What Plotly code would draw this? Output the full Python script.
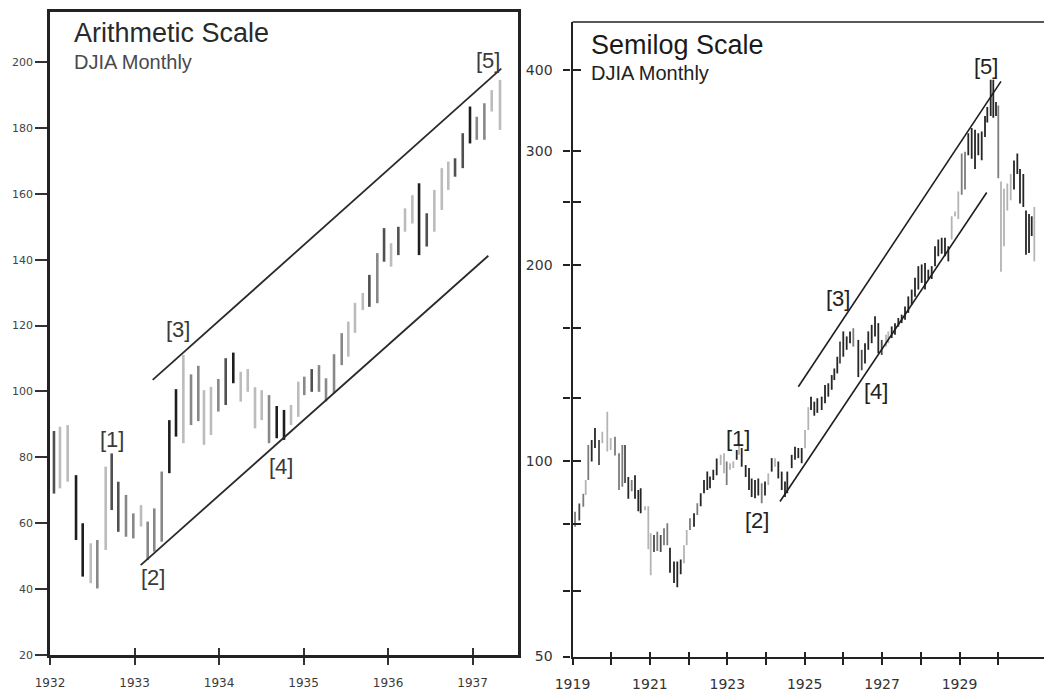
import plotly.graph_objects as go
import math

# ---------------- LEFT PANEL DATA (Arithmetic scale, DJIA monthly 1932-1937) -------------
left_years = [1932.047, 1932.118, 1932.209, 1932.308, 1932.387, 1932.482, 1932.560, 1932.659,
              1932.730, 1932.808, 1932.899, 1932.986, 1933.077, 1933.156, 1933.234, 1933.322,
              1933.412, 1933.491, 1933.578, 1933.669, 1933.755, 1933.822, 1933.905, 1933.992,
              1934.079, 1934.169, 1934.257, 1934.340, 1934.426, 1934.505, 1934.592, 1934.683,
              1934.769, 1934.852, 1934.938, 1935.009, 1935.097, 1935.183, 1935.266, 1935.361,
              1935.452, 1935.530, 1935.609, 1935.701, 1935.779, 1935.873, 1935.953, 1936.036,
              1936.122, 1936.201, 1936.288, 1936.367, 1936.458, 1936.548, 1936.636, 1936.713,
              1936.793, 1936.884, 1936.970, 1937.050, 1937.140, 1937.227, 1937.325]
left_high = [88.0, 89.3, 89.8, 74.6, 60.0, 53.9, 54.9, 77.2, 81.2, 72.6, 68.6, 63.0, 65.5,
             60.5, 64.5, 75.7, 91.3, 100.7, 111.1, 105.2, 107.8, 100.4, 101.4, 103.8, 110.1,
             111.8, 106.0, 106.8, 101.3, 100.4, 98.9, 95.6, 94.4, 95.9, 103.0, 104.5, 106.8,
             108.0, 104.0, 111.3, 117.7, 121.2, 126.9, 129.9, 135.4, 142.0, 149.6, 145.0,
             150.0, 155.6, 159.6, 163.2, 154.1, 161.2, 167.8, 169.8, 170.8, 178.4, 186.5,
             183.4, 187.5, 191.5, 194.6]
left_low = [69.0, 70.6, 72.6, 54.9, 43.8, 41.8, 40.2, 51.9, 64.0, 57.4, 55.9, 55.4, 59.0,
            48.8, 51.4, 54.4, 75.2, 86.3, 84.3, 89.8, 91.0, 83.8, 86.8, 93.9, 95.9, 102.5,
            96.9, 99.9, 88.8, 91.3, 84.3, 85.8, 85.3, 89.8, 92.3, 98.9, 99.9, 99.9, 97.0,
            99.5, 108.0, 110.6, 117.8, 124.7, 125.7, 126.8, 139.4, 137.9, 141.4, 148.5, 151.0,
            141.4, 144.0, 148.5, 155.1, 161.2, 165.2, 167.8, 175.3, 176.4, 176.4, 185.0, 179.4]
# printed ink shade of each bar (0 = black ... 3 = light grey)
left_shade = [1, 3, 3, 0, 0, 3, 2, 3, 1, 1, 2, 2, 3, 2, 2, 2, 0, 0, 3, 2, 2, 3, 3, 2, 1, 0,
              3, 3, 3, 3, 2, 0, 0, 3, 3, 2, 1, 2, 2, 2, 2, 3, 3, 3, 1, 2, 1, 3, 1, 3, 3, 0,
              1, 3, 3, 3, 1, 1, 0, 2, 2, 3, 3]
left_ticks = [1932, 1933, 1934, 1935, 1936, 1937]
left_yticks = [20, 40, 60, 80, 100, 120, 140, 160, 180, 200]
# channel lines (year, value)
left_upper = ([1933.215, 1937.34], [103.5, 198.0])
left_lower = ([1933.073, 1937.187], [47.3, 141.2])
left_labels = ["[1]", "[2]", "[3]", "[4]", "[5]"]
left_label_x = [1932.730, 1933.219, 1933.515, 1934.734, 1937.183]
left_label_y = [85.3, 43.4, 118.7, 77.1, 200.6]

# ---------------- RIGHT PANEL DATA (Semilog scale, DJIA monthly 1919-1930) ---------------
right_years = [1919.065, 1919.176, 1919.279, 1919.341, 1919.408, 1919.496, 1919.581, 1919.685,
               1919.770, 1919.899, 1919.987, 1920.098, 1920.202, 1920.287, 1920.357, 1920.442,
               1920.530, 1920.615, 1920.700, 1920.762, 1920.873, 1920.959, 1921.021, 1921.106,
               1921.191, 1921.279, 1921.364, 1921.450, 1921.519, 1921.623, 1921.708, 1921.796,
               1921.881, 1921.951, 1922.036, 1922.140, 1922.225, 1922.313, 1922.398, 1922.483,
               1922.553, 1922.638, 1922.726,
               1922.829, 1922.915, 1922.984, 1923.070, 1923.155, 1923.243, 1923.302, 1923.372,
               1923.475, 1923.561, 1923.630, 1923.716, 1923.801, 1923.889, 1923.974, 1924.059,
               1924.147, 1924.233, 1924.318, 1924.406, 1924.491, 1924.550, 1924.664, 1924.749,
               1924.835, 1924.922, 1925.008, 1925.093, 1925.163, 1925.248, 1925.326,
               1925.439, 1925.525, 1925.610, 1925.698, 1925.765, 1925.842, 1925.912, 1925.997,
               1926.085, 1926.171, 1926.256, 1926.385, 1926.473, 1926.558, 1926.643, 1926.731,
               1926.817, 1926.902, 1926.990, 1927.101, 1927.160, 1927.248, 1927.333, 1927.419,
               1927.506, 1927.592, 1927.677, 1927.765, 1927.850, 1927.936, 1928.023, 1928.109,
               1928.194,
               1928.282, 1928.367, 1928.452, 1928.540, 1928.625, 1928.711, 1928.798, 1928.884,
               1928.969, 1929.057, 1929.142, 1929.227, 1929.315, 1929.401, 1929.486, 1929.574,
               1929.659, 1929.718, 1929.806, 1929.873, 1929.943, 1930.002, 1930.072, 1930.150,
               1930.235, 1930.323, 1930.408, 1930.494, 1930.563, 1930.649, 1930.718, 1930.796,
               1930.866, 1930.933]
right_high = [83.5, 86.0, 89.0, 93.5, 105.8, 107.7, 112.4, 107.7, 110.9, 119.1, 108.5, 109.0,
              102.8, 105.8, 105.8, 94.5, 93.5, 95.1, 90.2, 90.8, 85.2, 85.2, 77.4, 76.9, 77.8,
              76.9, 78.8, 80.2, 73.5, 70.0, 70.0, 70.5, 74.2, 78.3, 81.6, 83.1, 86.1, 89.2,
              93.5, 96.3, 94.6, 96.9, 100.9,
              102.2, 102.8, 99.8, 99.2, 99.8, 104.0, 105.8, 104.7, 98.6, 97.5, 94.0, 93.5, 94.0,
              92.4, 93.0, 95.7, 101.0, 101.0, 99.8, 96.3, 93.0, 96.3, 102.2, 105.2, 104.7,
              104.7, 111.6, 121.0, 125.6, 123.4, 124.9,
              125.6, 130.9, 131.7, 135.6, 138.8, 144.7, 152.7, 158.3, 155.5, 158.3, 160.1,
              153.6, 148.3, 151.8, 158.3, 162.0, 167.0, 163.0, 153.6, 156.4, 158.3, 161.1,
              163.0, 166.0, 168.0, 172.9, 179.2, 183.6, 191.4, 199.5, 200.7, 201.8, 197.0,
              199.5, 214.0, 219.3, 220.6, 220.6, 214.0, 238.0, 242.2, 260.0, 297.5, 299.3,
              319.4, 325.6, 323.5, 319.4, 321.6, 339.8, 350.7, 386.4, 386.4, 357.0, 352.7,
              269.4, 262.5, 267.4, 276.5, 290.0, 297.5, 281.6, 276.5, 243.0, 240.0, 238.0, 246.0]
right_low = [79.2, 81.0, 85.0, 88.6, 93.5, 99.8, 104.7, 98.6, 106.5, 103.4, 104.0, 102.0,
             90.2, 91.3, 92.5, 87.5, 89.8, 87.5, 83.7, 83.1, 84.0, 73.1, 66.7, 72.4, 72.7,
             72.4, 74.2, 74.2, 67.3, 64.9, 63.9, 66.9, 69.6, 74.2, 78.3, 79.2, 82.6, 85.2,
             89.2, 90.2, 90.8, 93.5, 95.1,
             98.6, 95.7, 91.8, 96.9, 97.5, 100.4, 102.2, 98.0, 94.5, 90.2, 88.0, 87.6, 88.5,
             86.1, 88.5, 91.8, 96.3, 98.0, 94.0, 90.2, 88.0, 89.2, 97.5, 100.4, 101.0, 99.2,
             104.6, 111.6, 119.8, 117.4, 118.6,
             119.8, 122.7, 125.6, 128.7, 133.2, 136.4, 141.3, 144.7, 148.3, 151.8, 150.0,
             134.6, 137.9, 141.3, 148.3, 151.8, 155.5, 146.5, 145.6, 150.0, 151.8, 154.6,
             156.4, 161.0, 163.0, 165.0, 169.0, 174.0, 179.0, 183.6, 188.0, 183.6, 190.3,
             190.6, 199.5, 206.6, 208.5, 206.6, 202.9, 219.3, 238.0, 235.7, 257.0, 261.7,
             295.6, 292.0, 281.6, 295.6, 290.3, 315.4, 331.8, 339.8, 337.6, 339.8, 272.5,
             195.6, 214.0, 243.0, 252.0, 261.7, 276.5, 249.0, 246.0, 207.8, 209.0, 222.0, 202.9]
right_shade = [2, 1, 2, 3, 2, 0, 0, 1, 3, 3, 3, 2, 2, 2, 1, 0, 2, 0, 0, 0, 3, 3, 3, 1, 2, 1,
               2, 2, 0, 0, 0, 0, 3, 3, 2, 0, 2, 0, 0, 0, 0, 0, 0,
               3, 3, 2, 3, 3, 0, 3, 0, 0, 0, 0, 0, 0, 2, 0, 3, 0, 3, 0, 0, 0, 0, 0, 0, 0, 0,
               3, 3, 0, 0, 0,
               0, 0, 0, 0, 0, 0, 1, 0, 0, 0, 2, 0, 1, 0, 0, 0, 0, 0, 1, 3, 3, 0, 0, 0, 0, 0,
               0, 0, 0, 0, 0, 0, 0,
               0, 0, 0, 0, 0, 0, 3, 3, 3, 2, 2, 0, 0, 0, 0, 0, 0, 0, 0, 0, 0, 2, 3, 3, 3, 3,
               0, 0, 0, 0, 0, 0, 0, 3]
right_ticks = list(range(1919, 1931))
right_ticktext = ["1919", "", "1921", "", "1923", "", "1925", "", "1927", "", "1929", ""]
right_yticks = [50, 63, 80, 100, 125, 160, 200, 250, 300, 400]
right_yticktext = ["50", "", "", "100", "", "", "200", "", "300", "400"]
right_upper = ([1924.835, 1930.072], [130.1, 384.0])
right_lower = ([1924.362, 1929.703], [86.6, 259.0])
right_labels = ["[1]", "[2]", "[3]", "[4]", "[5]"]
right_label_x = [1923.276, 1923.760, 1925.868, 1926.842, 1929.685]
right_label_y = [108.3, 81.1, 178.0, 127.8, 404.8]

# ---------------- STYLE -------------
left_colors = ["#1e1e1e", "#505050", "#888888", "#bcbcbc"]
right_colors = ["#262626", "#4a4a4a", "#7c7c7c", "#b4b4b4"]
TITLE_FONT = "Liberation Sans, Arial, sans-serif"
TICK_FONT = "DejaVu Sans, sans-serif"
LEFT_XRANGE = [1932, 1937.538]
LEFT_YRANGE = [20, 215.2]
RIGHT_XRANGE = [1919, 1931.39]
RIGHT_YRANGE = [math.log10(50), math.log10(474)]

fig = go.Figure()


def add_bars(xs, hs, ls, shades, colors, width, xa, ya):
    for level, col in enumerate(colors):
        bx, by = [], []
        for x, h, l, s in zip(xs, hs, ls, shades):
            if s == level:
                bx += [x, x, None]
                by += [l, h, None]
        fig.add_trace(go.Scatter(x=bx, y=by, mode="lines", xaxis=xa, yaxis=ya,
                                 line=dict(color=col, width=width),
                                 hoverinfo="skip", showlegend=False))


add_bars(left_years, left_high, left_low, left_shade, left_colors, 2.6, "x", "y")
add_bars(right_years, right_high, right_low, right_shade, right_colors, 1.8, "x2", "y2")

for (lx, ly) in (left_upper, left_lower):
    fig.add_trace(go.Scatter(x=lx, y=ly, mode="lines", xaxis="x", yaxis="y",
                             line=dict(color="#2a2a2a", width=1.8),
                             hoverinfo="skip", showlegend=False))
for (lx, ly) in (right_upper, right_lower):
    fig.add_trace(go.Scatter(x=lx, y=ly, mode="lines", xaxis="x2", yaxis="y2",
                             line=dict(color="#1e1e1e", width=1.6),
                             hoverinfo="skip", showlegend=False))

# empty traces so that the overlay axes (inner halves of the crossing tick marks) are drawn
fig.add_trace(go.Scatter(x=[], y=[], xaxis="x4", yaxis="y", showlegend=False, hoverinfo="skip"))
fig.add_trace(go.Scatter(x=[], y=[], xaxis="x3", yaxis="y3", showlegend=False, hoverinfo="skip"))

annotations = []
for t, x, y in zip(left_labels, left_label_x, left_label_y):
    annotations.append(dict(text=t, x=x, y=y, xref="x", yref="y", showarrow=False,
                            xanchor="center", yanchor="middle",
                            font=dict(family=TITLE_FONT, size=22, color="#3a3a3a")))
for t, x, y in zip(right_labels, right_label_x, right_label_y):
    annotations.append(dict(text=t, x=x, y=math.log10(y), xref="x2", yref="y2",
                            showarrow=False, xanchor="center", yanchor="middle",
                            font=dict(family=TITLE_FONT, size=22, color="#222222")))

annotations += [
    dict(text="Arithmetic Scale", x=0.046, y=0.967, xref="x domain", yref="y domain",
         showarrow=False, xanchor="left", yanchor="middle",
         font=dict(family=TITLE_FONT, size=27, color="#2a2a2a")),
    dict(text="DJIA Monthly", x=0.046, y=0.922, xref="x domain", yref="y domain",
         showarrow=False, xanchor="left", yanchor="middle",
         font=dict(family=TITLE_FONT, size=20, color="#4a4a4a")),
    dict(text="Semilog Scale", x=0.034, y=0.9637, xref="x2 domain", yref="y2 domain",
         showarrow=False, xanchor="left", yanchor="middle",
         font=dict(family=TITLE_FONT, size=27, color="#1a1a1a")),
    dict(text="DJIA Monthly", x=0.034, y=0.9196, xref="x2 domain", yref="y2 domain",
         showarrow=False, xanchor="left", yanchor="middle",
         font=dict(family=TITLE_FONT, size=20, color="#222222")),
]

shapes = [dict(type="line", xref="x2 domain", yref="y2 domain", x0=0, x1=1, y0=1, y1=1,
               line=dict(color="#222222", width=1.6))]

# the page body adds an 8 px offset, so the figure is laid out in a 1044 x 683 frame
fig.update_layout(
    template="none",
    width=1044, height=683, autosize=False,
    margin=dict(l=0, r=0, t=0, b=0, pad=0),
    paper_bgcolor="white", plot_bgcolor="white",
    showlegend=False,
    annotations=annotations, shapes=shapes,
    xaxis=dict(domain=[0.04023, 0.48851], anchor="y", range=LEFT_XRANGE,
               automargin=False,
               tickmode="array", tickvals=left_ticks, ticktext=[str(v) for v in left_ticks],
               ticks="outside", ticklen=7, tickwidth=2, tickcolor="#333",
               showline=True, linewidth=2.6, linecolor="#222", mirror=True,
               showgrid=False, zeroline=False, ticklabelstandoff=8,
               tickfont=dict(family=TICK_FONT, size=12, color="#3a3a3a")),
    xaxis4=dict(overlaying="x", anchor="y", range=LEFT_XRANGE, automargin=False,
                tickmode="array", tickvals=left_ticks, showticklabels=False,
                ticks="inside", ticklen=7, tickwidth=2, tickcolor="#333",
                showline=False, showgrid=False, zeroline=False),
    yaxis=dict(domain=[0.05271, 0.99414], anchor="x", range=LEFT_YRANGE,
               automargin=False,
               tickmode="array", tickvals=left_yticks,
               ticks="outside", ticklen=12, tickwidth=2, tickcolor="#333",
               showline=True, linewidth=2.6, linecolor="#222", mirror=True,
               showgrid=False, zeroline=False, ticklabelstandoff=0,
               tickfont=dict(family=TICK_FONT, size=11, color="#444")),
    xaxis2=dict(domain=[0.54071, 1.0], anchor="y2", range=RIGHT_XRANGE,
                automargin=False,
                tickmode="array", tickvals=right_ticks, ticktext=right_ticktext,
                ticks="outside", ticklen=6, tickwidth=2, tickcolor="#222",
                showline=True, linewidth=2.2, linecolor="#222", mirror=False,
                showgrid=False, zeroline=False, ticklabelstandoff=8,
                tickfont=dict(family=TICK_FONT, size=14, color="#333")),
    xaxis3=dict(overlaying="x2", anchor="y2", range=RIGHT_XRANGE, automargin=False,
                tickmode="array", tickvals=right_ticks, showticklabels=False,
                ticks="inside", ticklen=5, tickwidth=2, tickcolor="#222",
                showline=False, showgrid=False, zeroline=False),
    yaxis2=dict(domain=[0.05051, 0.97950], anchor="x2", type="log",
                range=RIGHT_YRANGE,
                automargin=False,
                tickmode="array", tickvals=right_yticks, ticktext=right_yticktext,
                ticks="outside", ticklen=7, tickwidth=2, tickcolor="#222",
                showline=True, linewidth=2.2, linecolor="#222", mirror=False,
                showgrid=False, zeroline=False, ticklabelstandoff=8,
                tickfont=dict(family=TICK_FONT, size=14, color="#333")),
    yaxis3=dict(overlaying="y2", anchor="x2", type="log", range=RIGHT_YRANGE,
                automargin=False,
                tickmode="array", tickvals=right_yticks, showticklabels=False,
                ticks="inside", ticklen=8, tickwidth=2, tickcolor="#222",
                showline=False, showgrid=False, zeroline=False),
)

fig.write_html("out.html")
